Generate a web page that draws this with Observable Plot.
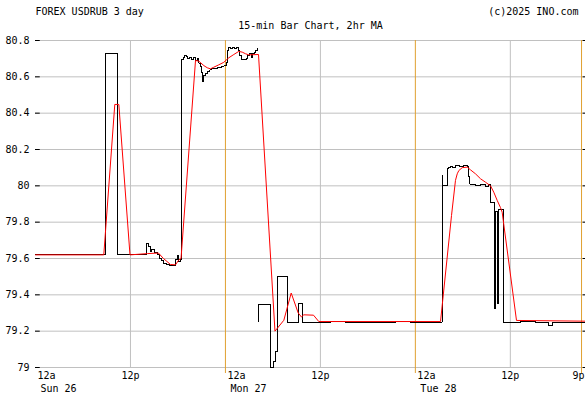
<!DOCTYPE html>
<html><head><meta charset="utf-8">
<script src="https://cdn.jsdelivr.net/npm/d3@7"></script>
<script src="https://cdn.jsdelivr.net/npm/@observablehq/plot@0.6"></script>
<style>body{margin:0;background:#fff} svg{display:block}</style>
</head><body><div id="chart"></div>
<script>
const titleLeft = "FOREX USDRUB 3 day";
const titleRight = "(c)2025 INO.com";
const subtitle = "15-min Bar Chart, 2hr MA";

const yTicks = [79, 79.2, 79.4, 79.6, 79.8, 80, 80.2, 80.4, 80.6, 80.8];
const yTickLabels = ["79", "79.2", "79.4", "79.6", "79.8", "80", "80.2", "80.4", "80.6", "80.8"];
const xTickHours = [0, 12, 24, 36, 48, 60, 69];
const xTickLabels = ["12a", "12p", "12a", "12p", "12a", "12p", "9p"];
const dayHours = [0, 24, 48];
const dayLabels = ["Sun 26", "Mon 27", "Tue 28"];
const noonHours = [12, 36, 60];
const boundaryHours = [24, 48, 69];

// 15-min bars (hours since Sun 12a, close price); null = data gap
const barHours = [0, 8.85, 10.30, 14.03, 14.34, 14.53, 14.72, 15.04, 15.42, 15.67, 15.92, 16.17, 16.55, 16.93, 17.69, 17.91, 18.03, 18.32,
  18.45, 18.70, 18.89, 19.08, 19.27, 19.46, 19.71, 19.97, 20.22, 20.47, 20.66, 20.85, 20.98, 21.14, 21.29, 21.48, 21.73, 22.05,
  22.24, 22.49, 22.74, 23.00, 23.25, 23.50, 23.82, 24.13, 24.26, 24.39, 24.64, 24.89, 25.15, 25.40, 25.65, 25.84, 26.03, 26.41,
  26.66, 26.85, 27.04, 27.29, 27.48, 27.67, 27.86, 28.05, 28.12,
  28.22, 28.24, 29.70, 30.04, 30.33, 30.62, 31.84, 33.23, 33.74, 37.28, 39.17, 41.07, 42.58, 44.23, 45.49, 47.39, 49.28, 50.67,
  51.37, 51.40, 52.02, 52.22, 52.44, 52.69, 53.07, 53.62, 54.12, 54.55, 54.75, 54.90, 55.60, 56.23, 56.86, 57.28,
  57.50, 57.94, 58.07, 58.32, 58.45, 59.08, 61.29, 63.18, 64.82, 65.33, 66.97, 68.24, 69.5];
const barCloses = [79.62, 80.73, 79.62, 79.68, 79.665, 79.64, 79.65, 79.635, 79.62, 79.60, 79.59, 79.57, 79.565, 79.56, 79.595, 79.615, 79.585, 79.595,
  80.695, 80.708, 80.72, 80.714, 80.70, 80.705, 80.694, 80.705, 80.69, 80.70, 80.675, 80.657, 80.626, 80.576, 80.61, 80.617, 80.63, 80.639,
  80.644, 80.648, 80.644, 80.65, 80.653, 80.657, 80.662, 80.68, 80.745, 80.76, 80.758, 80.763, 80.754, 80.76, 80.745, 80.717, 80.694, 80.695,
  80.70, 80.717, 80.727, 80.708, 80.73, 80.736, 80.745, 80.754, null,
  79.25, 79.347, 79.0, 79.035, 79.09, 79.503, 79.25, 79.35, 79.25, 79.255, 79.245, 79.25, 79.245, 79.25, 79.255, 79.25, 79.245, 79.25,
  80.057, 80.0, 80.094, 80.10, 80.106, 80.10, 80.112, 80.106, 80.112, 80.106, 80.05, 80.01, 80.0, 80.006, 79.998, 80.01,
  79.91, 79.325, 79.86, 79.35, 79.87, 79.25, 79.255, 79.245, 79.23, 79.25, 79.245, 79.25, 79.25];

// 2hr moving average
const maHours = [0, 8.63, 10.02, 10.53, 11.94, 14.15, 15.54, 16.17, 17.06, 17.69, 18.07, 18.39, 20.22, 20.64, 21.27, 21.70, 22.11, 22.53,
  23.16, 23.79, 24.43, 25.06, 25.69, 26.12, 26.54, 26.95, 28.18, 30.26, 31.38, 32.31, 33.20, 33.61, 33.90, 35.13, 35.80, 51.18,
  52.57, 53.07, 53.29, 53.49, 53.92, 54.55, 54.97, 55.60, 56.23, 56.86, 57.50, 57.91, 58.34, 58.76, 58.97, 60.78, 69.5];
const maValues = [79.62, 79.62, 80.448, 80.448, 79.62, 79.627, 79.63, 79.60, 79.567, 79.565, 79.59, 79.60, 80.69, 80.686, 80.662, 80.65, 80.644, 80.653,
  80.666, 80.68, 80.705, 80.723, 80.74, 80.736, 80.727, 80.721, 80.723, 79.20, 79.26, 79.41, 79.30, 79.278, 79.29, 79.288, 79.253, 79.253,
  79.837, 80.03, 80.066, 80.084, 80.10, 80.103, 80.088, 80.066, 80.039, 80.02, 80.0, 79.965, 79.92, 79.88, 79.855, 79.259, 79.255];

const bars = barHours.map((h, i) => ({h, v: barCloses[i]}));
const ma = maHours.map((h, i) => ({h, v: maValues[i]}));
const xTicks = xTickHours.map((h, i) => ({h, label: xTickLabels[i]}));
const days = dayHours.map((h, i) => ({h, label: dayLabels[i]}));
const lastTick = xTicks[xTicks.length - 1];

const chart = Plot.plot({
  width: 585, height: 394,
  marginLeft: 35, marginRight: 0, marginTop: 40, marginBottom: 27,
  x: {domain: [0, 69.5], axis: null},
  y: {domain: [79, 80.8], axis: null},
  style: {fontFamily: "'DejaVu Sans Mono', monospace", fontSize: "10px", background: "#fff", color: "#000", overflow: "visible"},
  marks: [
    Plot.ruleY(yTicks, {stroke: "#c0c0c0", strokeWidth: 1}),
    Plot.ruleX(noonHours, {stroke: "#c0c0c0", strokeWidth: 1}),
    Plot.ruleX(boundaryHours, {stroke: "#e0a030", strokeWidth: 1, insetBottom: -6}),
    Plot.ruleY(yTicks, {x1: 0, x2: 0.6, stroke: "#000"}),
    Plot.ruleY(yTicks, {x1: 69.2, x2: 69.5, stroke: "#000"}),
    Plot.line(bars, {x: "h", y: "v", curve: "step-after", stroke: "#000", strokeWidth: 1, shapeRendering: "crispEdges"}),
    Plot.line(ma, {x: "h", y: "v", stroke: "#ff0000", strokeWidth: 1}),
    Plot.text(yTicks, {x: 0, y: d => d, text: (d, i) => yTickLabels[i], textAnchor: "end", lineAnchor: "middle", dx: -6, fill: "#000"}),
    Plot.text(xTicks.filter(d => d.label.endsWith("a")), {x: "h", text: "label", frameAnchor: "bottom", textAnchor: "start", lineAnchor: "bottom", dx: 2, dy: 11, fill: "#000"}),
    Plot.text(xTicks.filter(d => d.label.endsWith("p") && d !== lastTick), {x: "h", text: "label", frameAnchor: "bottom", textAnchor: "middle", lineAnchor: "bottom", dy: 11, fill: "#000"}),
    Plot.text([lastTick], {x: "h", text: "label", frameAnchor: "bottom", textAnchor: "end", lineAnchor: "bottom", dx: 3, dy: 11, fill: "#000"}),
    Plot.text(days, {x: "h", text: "label", frameAnchor: "bottom", textAnchor: "start", lineAnchor: "bottom", dx: 5, dy: 24, fill: "#000"}),
    Plot.text([titleLeft], {text: d => d, frameAnchor: "top-left", textAnchor: "start", lineAnchor: "bottom", dy: -26, fill: "#000"}),
    Plot.text([titleRight], {text: d => d, frameAnchor: "top-right", textAnchor: "end", lineAnchor: "bottom", dx: -7, dy: -26, fill: "#000"}),
    Plot.text([subtitle], {text: d => d, frameAnchor: "top", textAnchor: "middle", lineAnchor: "bottom", dy: -12, fill: "#000"})
  ]
});
document.getElementById("chart").append(chart);
</script>
</body></html>
